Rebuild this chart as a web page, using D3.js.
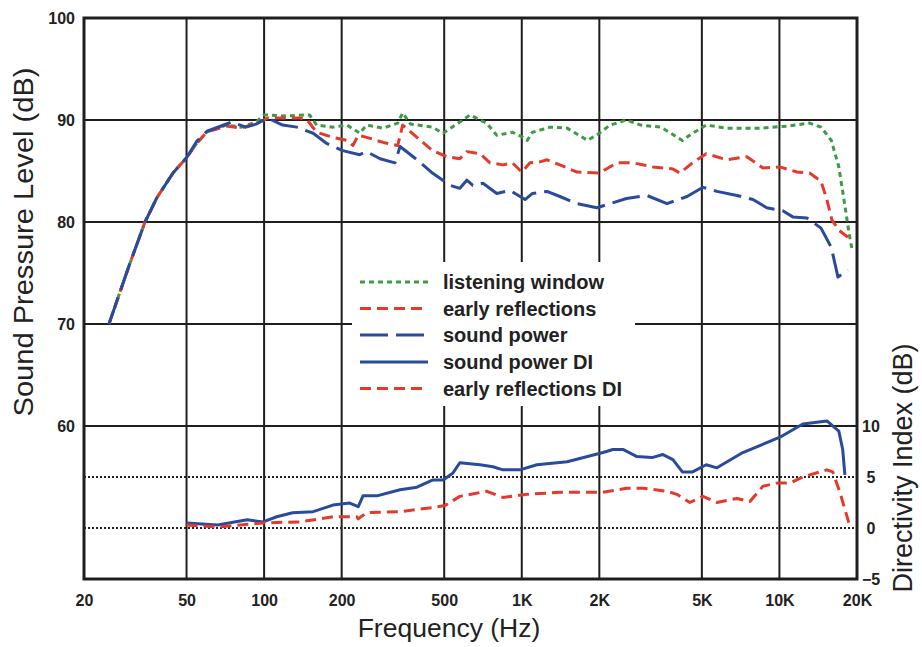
<!DOCTYPE html>
<html>
<head>
<meta charset="utf-8">
<script src="https://cdn.jsdelivr.net/npm/d3@7"></script>
<style>
  html, body { margin: 0; padding: 0; background: #fff; }
  svg { display: block; }
  text { font-family: Arial, "Liberation Sans", Helvetica, sans-serif; fill: #222; }
</style>
</head>
<body>
<svg id="chart" width="922" height="647"></svg>
<script>
// ---------- data ----------
const freqTicks  = [20, 50, 100, 200, 500, 1000, 2000, 5000, 10000, 20000];
const freqLabels = ["20", "50", "100", "200", "500", "1K", "2K", "5K", "10K", "20K"];
const splTicks   = [60, 70, 80, 90, 100];
const splGrid    = [60, 70, 80, 90];
const diTicks    = [-5, 0, 5, 10];
const diDotted   = [0, 5];

const seriesNames = ["listening window", "early reflections", "sound power", "sound power DI", "early reflections DI"];

// [frequency Hz, dB]
const listeningWindow = [
  [25,70],[30,75.8],[34.5,80],[38.4,82.4],[44.3,84.8],[50,86.3],[54.7,87.7],[60,88.85],[71.5,89.5],[81.5,89.3],[93,89.8],
  [100,90.5],[118,90.4],[150,90.5],[160,89.5],[185,89.3],[210,89.5],[235,88.7],[250,89.5],[290,89.2],[330,89.7],[345,90.7],
  [370,89.6],[450,89.3],[495,88.7],[575,89.8],[630,90.5],[730,89.7],[800,88.5],[920,88.8],[1010,88.3],[1050,88.0],[1100,88.8],
  [1290,89.3],[1500,89.2],[1800,88.0],[2000,88.7],[2200,89.5],[2550,90.0],[2900,89.5],[3470,89.3],[4200,88.0],[4600,88.7],
  [5200,89.5],[6250,89.2],[8400,89.2],[10700,89.4],[13100,89.7],[14500,89.3],[15900,88.0],[17000,85.4],[17800,82.2],
  [18600,79.0],[19100,77.4]
];
const earlyReflections = [
  [25,70],[30,75.8],[34.5,80],[38.4,82.4],[44.3,84.8],[50,86.3],[54.7,87.7],[60,88.85],[71.5,89.4],[81.5,89.2],[93,89.7],
  [100,90.0],[103,90.2],[138,90.2],[147,90.0],[160,88.8],[185,88.3],[210,88.0],[221,87.5],[232,88.5],[250,88.3],[290,87.8],
  [330,87.5],[345,89.5],[392,88.3],[450,87.0],[512,86.4],[575,86.2],[612,86.9],[688,86.7],[753,85.8],[845,85.6],[920,85.8],
  [1000,84.9],[1076,85.8],[1177,85.9],[1253,86.1],[1406,85.6],[1637,84.9],[2000,84.8],[2340,85.8],[2700,85.8],[3230,85.4],
  [3860,85.2],[4110,84.8],[4600,85.8],[5200,86.7],[6250,86.1],[7480,86.4],[8630,85.3],[10040,85.4],[11690,84.9],[13100,84.8],
  [14500,84.0],[15280,82.2],[15980,80.2],[17000,79.2],[18440,78.5]
];
const soundPower = [
  [25,70],[30,75.8],[34.5,80],[38.4,82.4],[44.3,84.8],[50,86.3],[54.7,87.9],[60,88.9],[75,89.8],[85,89.3],[93,89.6],
  [100,90.0],[103,90.2],[118,89.5],[134,89.3],[155,88.7],[175,87.7],[202,87.0],[235,86.6],[250,86.9],[282,86.2],[322,85.8],
  [337,87.4],[392,86.1],[450,84.8],[526,83.6],[575,83.3],[612,84.1],[646,83.6],[707,83.8],[800,82.8],[900,83.1],[1030,82.2],
  [1100,82.8],[1253,83.0],[1406,82.5],[1637,81.8],[1958,81.4],[2200,81.8],[2550,82.3],[3060,82.6],[3660,81.8],[4380,82.5],
  [5050,83.4],[5720,83.0],[6840,82.6],[7890,82.2],[8930,81.4],[10300,81.1],[11270,80.5],[12780,80.4],[14500,79.4],
  [15900,77.5],[16870,74.6],[18440,75.3]
];
// directivity index, dB
const soundPowerDI = [
  [50,0.5],[66,0.3],[86,0.8],[99,0.6],[112,1.1],[129,1.5],[155,1.6],[185,2.25],[215,2.45],[232,2.1],[242,3.15],[274,3.15],
  [337,3.75],[392,4.0],[450,4.7],[495,4.7],[541,5.4],[575,6.4],[688,6.2],[773,6.0],[845,5.7],[984,5.7],[1145,6.2],[1500,6.5],
  [2066,7.4],[2260,7.7],[2470,7.7],[2800,7.0],[3200,6.9],[3530,7.2],[3860,6.7],[4200,5.5],[4600,5.5],[5200,6.2],[5720,5.9],
  [7210,7.4],[10040,8.9],[12330,10.2],[15280,10.5],[17000,9.5],[17600,7.7],[17950,5.2]
];
const earlyReflectionsDI = [
  [50,0.3],[66,0.1],[99,0.5],[138,0.6],[185,1.1],[229,1.1],[232,0.9],[250,1.5],[337,1.6],[450,2.0],[504,2.2],[575,3.1],
  [730,3.6],[845,3.0],[1050,3.3],[1406,3.5],[2066,3.5],[2550,3.9],[2950,3.9],[3660,3.6],[4000,3.3],[4490,2.5],[5050,3.1],
  [5720,2.5],[6840,2.9],[7680,2.6],[8630,4.1],[9780,4.4],[10980,4.4],[12330,5.0],[15280,5.7],[16100,5.5],[17170,3.5],[18600,0.5]
];

// ---------- layout ----------
const svg = d3.select("#chart");
const L = 84, R = 857, T = 18, B = 579;
const x   = d3.scaleLog().domain([20, 20000]).range([L, R]);
const y   = d3.scaleLinear().domain([45, 100]).range([B, T]);
const yDI = d3.scaleLinear().domain([-5, 50]).range([B, T]);

const RED = "#e43a2c", GREEN = "#3d9a45", BLUE = "#2a4a9c", INK = "#1e1e1e";

svg.append("rect").attr("width", 922).attr("height", 647).attr("fill", "#fff");

const grid = svg.append("g").attr("stroke", INK).attr("stroke-width", 2);
grid.selectAll("line.v").data(freqTicks.slice(1, -1)).join("line")
  .attr("x1", d => x(d)).attr("x2", d => x(d)).attr("y1", T).attr("y2", B);
grid.selectAll("line.h").data(splGrid).join("line")
  .attr("x1", L).attr("x2", R).attr("y1", d => y(d)).attr("y2", d => y(d));

// legend background interrupts the grid
svg.append("rect").attr("x", 352).attr("y", 262).attr("width", 283).attr("height", 144).attr("fill", "#fff");

// dotted DI reference lines
svg.append("g").selectAll("line").data(diDotted).join("line")
  .attr("x1", L).attr("x2", R).attr("y1", d => yDI(d)).attr("y2", d => yDI(d))
  .attr("stroke", "#222").attr("stroke-width", 2).attr("stroke-dasharray", "2,2");

// frame
svg.append("rect").attr("x", L).attr("y", T).attr("width", R - L).attr("height", B - T)
  .attr("fill", "none").attr("stroke", INK).attr("stroke-width", 3);

// axes (labels only)
const axL = svg.append("g").attr("transform", `translate(${L},0)`)
  .call(d3.axisLeft(y).tickValues(splTicks).tickSize(0).tickPadding(9).tickFormat(d3.format("d")));
const axR = svg.append("g").attr("transform", `translate(${R},0)`)
  .call(d3.axisRight(yDI).tickValues(diTicks).tickSize(0).tickPadding(6).tickFormat(d3.format("d")));
const axB = svg.append("g").attr("transform", `translate(0,${B})`)
  .call(d3.axisBottom(x).tickValues(freqTicks).tickSize(0).tickPadding(16).tickFormat((d, i) => freqLabels[i]));
[axL, axR, axB].forEach(g => {
  g.select(".domain").remove();
  g.selectAll("text").attr("font-size", 16).attr("font-weight", "bold").attr("fill", "#222")
    .attr("font-family", "Arial, 'Liberation Sans', Helvetica, sans-serif");
});
axR.selectAll("text").attr("text-anchor", "middle").attr("x", 14);

// series
const line   = d3.line().x(d => x(d[0])).y(d => y(d[1]));
const lineDI = d3.line().x(d => x(d[0])).y(d => yDI(d[1]));
const styles = [
  { data: listeningWindow,    gen: line,   color: GREEN, dash: "5,4",  w: 3 },
  { data: earlyReflections,   gen: line,   color: RED,   dash: "11,6", w: 3 },
  { data: soundPower,         gen: line,   color: BLUE,  dash: "28,8", w: 3 },
  { data: soundPowerDI,       gen: lineDI, color: BLUE,  dash: null,   w: 3 },
  { data: earlyReflectionsDI, gen: lineDI, color: RED,   dash: "11,6", w: 3 }
];
styles.forEach(s => {
  svg.append("path").attr("d", s.gen(s.data)).attr("fill", "none")
    .attr("stroke", s.color).attr("stroke-width", s.w)
    .attr("stroke-dasharray", s.dash).attr("stroke-linejoin", "round");
});

// legend
const rowY = [282, 308.5, 335, 362, 388.5];
const leg = svg.append("g");
seriesNames.forEach((name, i) => {
  const s = styles[i];
  leg.append("line").attr("x1", 360).attr("x2", 428).attr("y1", rowY[i]).attr("y2", rowY[i])
    .attr("stroke", s.color).attr("stroke-width", 3).attr("stroke-dasharray", s.dash);
  leg.append("text").attr("x", 443).attr("y", rowY[i]).attr("dy", "0.35em")
    .attr("font-size", 20).attr("font-weight", "bold").text(name);
});

// axis titles
svg.append("text").attr("transform", "translate(33,242) rotate(-90)")
  .attr("text-anchor", "middle").attr("font-size", 28)
  .attr("textLength", 349).attr("lengthAdjust", "spacingAndGlyphs")
  .text("Sound Pressure Level (dB)");
svg.append("text").attr("x", 449).attr("y", 637).attr("text-anchor", "middle").attr("font-size", 26.5)
  .text("Frequency (Hz)");
svg.append("text").attr("transform", "translate(912,468) rotate(-90)")
  .attr("text-anchor", "middle").attr("font-size", 27)
  .text("Directivity Index (dB)");
</script>
</body>
</html>
